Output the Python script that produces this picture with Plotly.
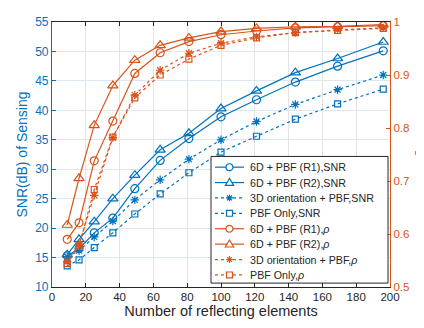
import plotly.graph_objects as go

# Data
n_elements = [9, 16, 25, 36, 49, 64, 81, 100, 121, 144, 169, 196]

snr_6d_r1 = [15.3, 16.5, 19.2, 21.7, 26.7, 31.5, 35.2, 38.9, 41.8, 44.8, 47.5, 50.1]
snr_6d_r2 = [15.5, 18.1, 21.1, 25.0, 29.0, 33.3, 36.1, 40.3, 43.3, 46.4, 48.8, 51.6]
snr_3d = [15.1, 16.2, 18.5, 21.2, 24.8, 28.2, 31.7, 35.0, 38.1, 41.0, 43.5, 46.0]
snr_pbf = [13.6, 14.6, 16.7, 19.2, 22.4, 25.8, 29.4, 32.9, 35.6, 38.5, 41.1, 43.6]

rho_6d_r1 = [0.590, 0.621, 0.738, 0.813, 0.903, 0.942, 0.963, 0.976, 0.983, 0.989, 0.991, 0.993]
rho_6d_r2 = [0.617, 0.705, 0.805, 0.880, 0.928, 0.956, 0.970, 0.982, 0.988, 0.991, 0.992, 0.995]
rho_3d = [0.548, 0.580, 0.673, 0.782, 0.862, 0.909, 0.941, 0.960, 0.972, 0.980, 0.985, 0.989]
rho_pbf = [0.544, 0.577, 0.684, 0.783, 0.857, 0.900, 0.930, 0.956, 0.970, 0.980, 0.984, 0.988]

x_ticks = [0, 20, 40, 60, 80, 100, 120, 140, 160, 180, 200]

BLUE = "#0072BD"
ORANGE = "#D95319"
DARK = "#262626"
FONT = "Liberation Sans, Arial, sans-serif"

series = [
    ("6D + PBF (R1),SNR", snr_6d_r1, BLUE, "solid", "circle", 8, "y"),
    ("6D + PBF (R2),SNR", snr_6d_r2, BLUE, "solid", "triangle", 9, "y"),
    ("3D orientation + PBF,SNR", snr_3d, BLUE, "dot", "asterisk", 7, "y"),
    ("PBF Only,SNR", snr_pbf, BLUE, "dot", "square", 6, "y"),
    ("6D + PBF (R1),<i>ρ</i>", rho_6d_r1, ORANGE, "solid", "circle", 8, "y2"),
    ("6D + PBF (R2),<i>ρ</i>", rho_6d_r2, ORANGE, "solid", "triangle", 9, "y2"),
    ("3D orientation + PBF,<i>ρ</i>", rho_3d, ORANGE, "dot", "asterisk", 7, "y2"),
    ("PBF Only,<i>ρ</i>", rho_pbf, ORANGE, "dot", "square", 6, "y2"),
]
plotly_symbol = {"circle": "circle-open", "triangle": "triangle-up-open",
                 "asterisk": "asterisk-open", "square": "square-open"}

W, H = 424, 328
ML, MR, MT, MB = 44, 42, 7, 49
PW, PH = W - ML - MR, H - MT - MB


def px_x(px):
    return (px - ML) / PW


def px_y(py):
    return (H - MB - py) / PH


fig = go.Figure()
for name, vals, color, dash, sym, size, yax in series:
    fig.add_trace(go.Scatter(
        x=n_elements, y=vals, name=name, yaxis=yax,
        mode="lines+markers", showlegend=False,
        line=dict(color=color, width=1.2, dash=dash),
        marker=dict(symbol=plotly_symbol[sym], size=size, color=color,
                    line=dict(color=color, width=1.2)),
    ))

# ---- legend (drawn as layout decoration to match the compact row spacing) ----
shapes = []
annotations = []
box_l, box_r, box_t, box_b = 203, 380, 145, 275
shapes.append(dict(type="rect", xref="paper", yref="paper",
                   x0=px_x(box_l), x1=px_x(box_r), y0=px_y(box_b), y1=px_y(box_t),
                   line=dict(color=DARK, width=1), fillcolor="white", layer="above"))
row0, row_step = 156.0, 15.8
line_l, line_r, mk_x, text_x = 207, 236, 221.5, 240
for i, (name, _, color, dash, sym, size, _) in enumerate(series):
    cy = row0 + row_step * i
    shapes.append(dict(type="line", xref="paper", yref="paper",
                       x0=px_x(line_l), x1=px_x(line_r), y0=px_y(cy), y1=px_y(cy),
                       line=dict(color=color, width=1.2, dash=dash), layer="above"))
    mline = dict(color=color, width=1.2)
    if sym == "circle":
        r = 3.5
        shapes.append(dict(type="circle", xref="paper", yref="paper",
                           x0=px_x(mk_x - r), x1=px_x(mk_x + r), y0=px_y(cy + r), y1=px_y(cy - r),
                           line=mline, fillcolor="white", layer="above"))
    elif sym == "square":
        r = 3
        shapes.append(dict(type="rect", xref="paper", yref="paper",
                           x0=px_x(mk_x - r), x1=px_x(mk_x + r), y0=px_y(cy + r), y1=px_y(cy - r),
                           line=mline, fillcolor="white", layer="above"))
    elif sym == "triangle":
        r = 4.2
        p = "M {:.5f} {:.5f} L {:.5f} {:.5f} L {:.5f} {:.5f} Z".format(
            px_x(mk_x), px_y(cy - r), px_x(mk_x - r), px_y(cy + r * 0.7),
            px_x(mk_x + r), px_y(cy + r * 0.7))
        shapes.append(dict(type="path", xref="paper", yref="paper", path=p,
                           line=mline, fillcolor="white", layer="above"))
    else:
        r = 3.5
        d = r * 0.707
        segs = [((mk_x - r, cy), (mk_x + r, cy)), ((mk_x, cy - r), (mk_x, cy + r)),
                ((mk_x - d, cy - d), (mk_x + d, cy + d)), ((mk_x - d, cy + d), (mk_x + d, cy - d))]
        p = " ".join("M {:.5f} {:.5f} L {:.5f} {:.5f}".format(px_x(a[0]), px_y(a[1]), px_x(b[0]), px_y(b[1]))
                     for a, b in segs)
        shapes.append(dict(type="path", xref="paper", yref="paper", path=p,
                           line=mline, layer="above"))
    annotations.append(dict(xref="paper", yref="paper", x=px_x(text_x), y=px_y(cy),
                            xanchor="left", yanchor="middle", showarrow=False,
                            text=name, font=dict(size=10.7, color=DARK, family=FONT)))

# right axis title (rho)
annotations.append(dict(xref="paper", yref="paper", x=px_x(409), y=0.5,
                        xanchor="center", yanchor="middle", showarrow=False, textangle=-90,
                        text="<i>ρ</i>", font=dict(size=14, color=ORANGE, family=FONT)))

fig.update_layout(
    width=W, height=H,
    margin=dict(l=ML, r=MR, t=MT, b=MB),
    paper_bgcolor="white", plot_bgcolor="white",
    font=dict(family=FONT, size=12, color=DARK),
    showlegend=False,
    shapes=shapes, annotations=annotations,
    xaxis=dict(
        range=[0, 200], tickvals=x_ticks, ticktext=[str(v) for v in x_ticks],
        showgrid=True, gridcolor="#e3e3e3", gridwidth=1,
        showline=True, linecolor=DARK, linewidth=1, mirror="ticks",
        ticks="inside", ticklen=4, tickcolor=DARK,
        tickfont=dict(size=11.5, color=DARK), ticklabelstandoff=-1,
        title=dict(text="Number of reflecting elements", font=dict(size=14.5, color=DARK), standoff=2),
        zeroline=False,
    ),
    yaxis=dict(
        range=[10, 55], dtick=5, tick0=10,
        showgrid=True, gridcolor="#dce7f1", gridwidth=1,
        showline=True, linecolor=BLUE, linewidth=1.2,
        ticks="inside", ticklen=4, tickcolor=BLUE,
        tickfont=dict(size=12, color=BLUE),
        title=dict(text="SNR(dB) of Sensing", font=dict(size=14, color=BLUE), standoff=4),
        zeroline=False,
    ),
    yaxis2=dict(
        range=[0.5, 1], dtick=0.1, tick0=0.5, overlaying="y", side="right",
        showgrid=False, showline=True, linecolor=ORANGE, linewidth=1.2,
        ticks="inside", ticklen=4, tickcolor=ORANGE,
        tickfont=dict(size=11.5, color=ORANGE),
        zeroline=False,
    ),
)

fig.write_html("out.html")
